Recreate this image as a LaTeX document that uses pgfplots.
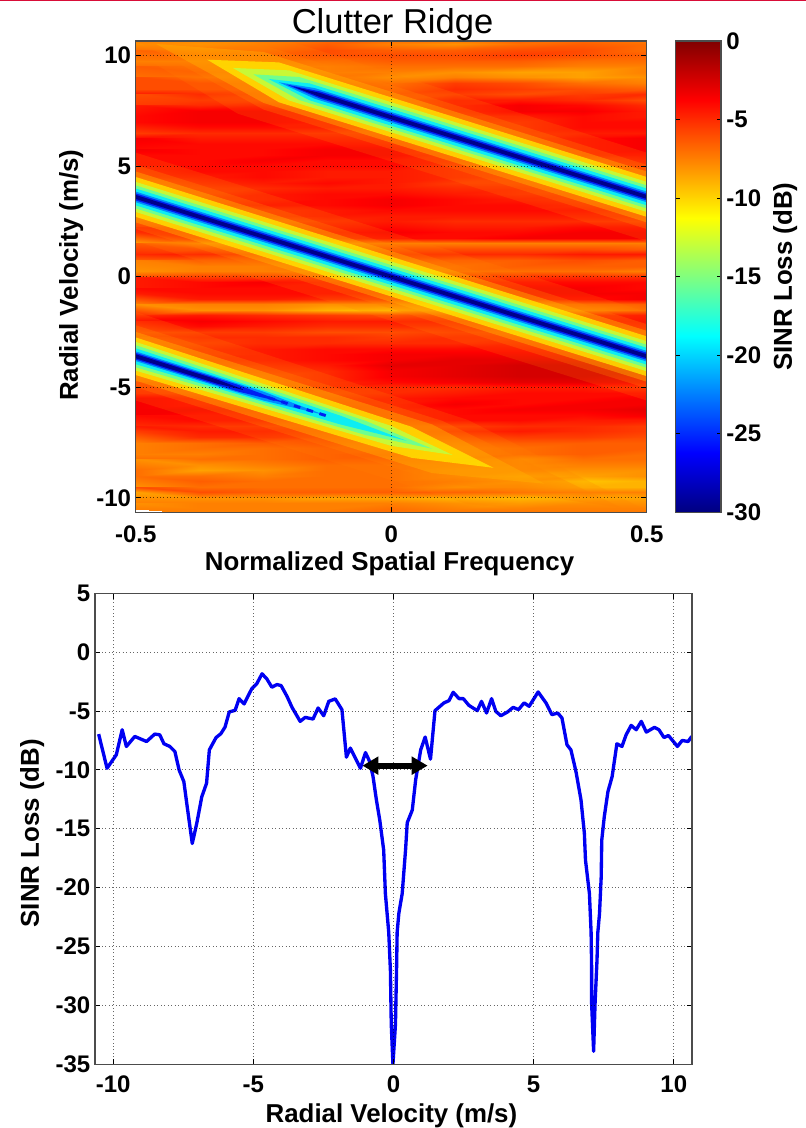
\documentclass[border=0pt]{standalone}
\usepackage{fontspec}
\setmainfont{Liberation Sans}
\usepackage{pgfplots}
\usepgfplotslibrary{colormaps}
\usetikzlibrary{arrows.meta}
\pgfplotsset{compat=1.18}
\definecolor{cO}{rgb}{1,0.5,0}
\definecolor{cA}{rgb}{1,0.68,0}
\definecolor{cY}{rgb}{1,0.92,0}
\definecolor{cL}{rgb}{0.75,1,0.25}
\definecolor{cG}{rgb}{0.4,1,0.6}
\definecolor{cC}{rgb}{0.05,0.93,0.95}
\definecolor{cT}{rgb}{0,0.55,1}
\definecolor{cB}{rgb}{0,0.12,0.95}
\definecolor{cN}{rgb}{0,0,0.55}
\definecolor{frame}{gray}{0.3}
\pgfplotsset{
  /pgf/number format/assume math mode=true,
  /pgf/number format/fixed,
  every axis/.append style={
    tick label style={font=\fontsize{18}{20}\selectfont\bfseries},
    label style={font=\fontsize{19.4}{22}\selectfont\bfseries},
    axis line style={frame,line width=0.9pt},
    tick style={black,line width=0.6pt},
    major tick length=4pt,
    tick align=inside,
    grid style={black,dash pattern=on 0.7pt off 1.9pt,line width=0.6pt,opacity=0.6},
    axis on top,
    scale only axis,
    anchor=south west,
  },
}
\begin{document}
\begin{tikzpicture}
\path[use as bounding box] (0,0) rectangle (604.5pt,846pt);
\fill[fill={rgb,1:red,0.85;green,0.05;blue,0.22}] (0,844.9pt) rectangle (604.5pt,846pt);
\begin{axis}[
  at={(101.8pt,461.8pt)},width=383.25pt,height=353.5pt,
  xmin=-0.5,xmax=0.5,ymin=-10.65,ymax=10.65,
  xtick={-0.5,0,0.5},ytick={-10,-5,...,10},
  xticklabels={-0.5,0,0.5},
  xticklabel style={yshift=-6.5pt},
  grid=major,
  title={\fontsize{25.9}{28}\selectfont\mdseries Clutter Ridge},
  title style={at={(0.5025,0.998)},anchor=base},
  xlabel={Normalized Spatial Frequency},
  ylabel={Radial Velocity (m/s)},
  xlabel style={at={(axis description cs:0.4967,-0.124)},anchor=base},
  ylabel style={at={(axis description cs:-0.113,0.503)},anchor=base},
  colormap/jet,point meta min=-30,point meta max=0,
]
\addplot[surf,shader=interp,mesh/cols=9,point meta=\thisrowno{0},forget plot] table[header=false,row sep=\\,
  x expr={-0.5+0.125*mod(\coordindex,9)},y expr={10.75-0.25*floor(\coordindex/9)}] {
-7.5\\-8\\-7.5\\-7\\-7\\-7\\-6.5\\-7\\-7.5\\
-8\\-8.5\\-7.5\\-6.5\\-7.5\\-8\\-7\\-6.5\\-7\\
-7\\-7.5\\-7\\-6\\-6.5\\-6.5\\-6\\-6\\-7\\
-6.5\\-6.5\\-6.5\\-6\\-6\\-6\\-5.5\\-6\\-6.5\\
-7.5\\-7.5\\-7\\-7\\-6.5\\-6.5\\-6.5\\-7\\-7\\
-7\\-7\\-7.5\\-7.5\\-7\\-7\\-7\\-7.5\\-7.5\\
-6.5\\-6.5\\-7\\-7.5\\-7.5\\-8\\-8.5\\-8.5\\-7.5\\
-7\\-7\\-7\\-7\\-8\\-7.5\\-8\\-8.5\\-8\\
-6\\-6\\-6\\-6.5\\-7\\-5.5\\-6\\-7\\-7.5\\
-6\\-6\\-6\\-6\\-6.5\\-5\\-5.5\\-6\\-6.5\\
-4.5\\-5\\-5.5\\-6\\-6\\-5.5\\-6\\-5.5\\-5\\
-6\\-5.5\\-5.5\\-6\\-6\\-4.5\\-4.5\\-5\\-6\\
-5.5\\-5\\-4.5\\-5\\-6\\-4.5\\-3.5\\-4\\-5\\
-4.5\\-3.5\\-3.5\\-4\\-5.5\\-4.5\\-3.5\\-3.5\\-4.5\\
-4\\-3.5\\-3.5\\-4\\-5\\-5\\-4.5\\-4\\-4.5\\
-4\\-3.5\\-3.5\\-4\\-4.5\\-5\\-5\\-4\\-4\\
-4\\-4\\-4\\-4\\-4.5\\-5\\-5\\-4\\-4\\
-5.5\\-5\\-5\\-5\\-5\\-5.5\\-5\\-4.5\\-4.5\\
-4\\-4.5\\-4.5\\-4.5\\-4.5\\-5\\-5\\-4\\-3.5\\
-3.5\\-4\\-4\\-4\\-4\\-5\\-5\\-4\\-3.5\\
-4\\-4\\-4\\-3.5\\-3.5\\-5\\-5\\-4\\-3.5\\
-3.5\\-4\\-4\\-3.5\\-3.5\\-4.5\\-5\\-4\\-4\\
-4\\-4\\-3.5\\-4\\-4\\-4.5\\-5\\-5\\-4.5\\
-4\\-4\\-4\\-4\\-4\\-5\\-5.5\\-5.5\\-5\\
-4.5\\-4\\-4\\-4.5\\-4.5\\-5\\-5.5\\-6\\-5.5\\
-5\\-4.5\\-4\\-4.5\\-4.5\\-5\\-5.5\\-6\\-6\\
-6\\-5\\-4.5\\-4\\-4.5\\-5.5\\-5.5\\-6\\-6\\
-6\\-5.5\\-5\\-4.5\\-4.5\\-5\\-5\\-5.5\\-6\\
-5\\-5.5\\-4.5\\-4\\-4\\-4.5\\-5\\-5\\-6\\
-5\\-5\\-4.5\\-4\\-3.5\\-4\\-4.5\\-5\\-5.5\\
-4.5\\-4.5\\-4\\-4\\-3.5\\-4\\-4\\-4.5\\-5\\
-6\\-6\\-5\\-4.5\\-4\\-4\\-4\\-4\\-4.5\\
-5\\-5.5\\-5\\-4.5\\-4.5\\-4.5\\-4.5\\-4.5\\-4.5\\
-6.5\\-6\\-6\\-5\\-4.5\\-5\\-5\\-5\\-5\\
-4.5\\-4.5\\-5\\-4.5\\-4\\-4.5\\-4.5\\-4\\-4\\
-4\\-4\\-4.5\\-4\\-3.5\\-4\\-4\\-3.5\\-3.5\\
-4.5\\-4.5\\-5\\-4.5\\-4\\-4\\-3.5\\-3.5\\-3.5\\
-8.5\\-8\\-8\\-8\\-7.5\\-7.5\\-7.5\\-7.5\\-7.5\\
-6.5\\-6\\-6.5\\-6.5\\-6\\-6\\-6\\-6\\-6.5\\
-5\\-4.5\\-5\\-5\\-5\\-5\\-5\\-4.5\\-4.5\\
-6.5\\-6.5\\-6.5\\-6.5\\-6\\-6.5\\-6.5\\-6\\-6.5\\
-7.5\\-7.5\\-7.5\\-7\\-7\\-7\\-6.5\\-6.5\\-6.5\\
-8\\-7.5\\-7.5\\-7.5\\-8\\-7\\-7\\-7\\-7.5\\
-6\\-5.5\\-5.5\\-5\\-5\\-5\\-5\\-5\\-5\\
-4.5\\-4\\-3.5\\-4\\-4\\-4\\-4\\-4\\-4\\
-4.5\\-4\\-4\\-4\\-4\\-4\\-3.5\\-3.5\\-4\\
-4\\-4\\-4\\-4\\-4\\-4\\-3.5\\-3.5\\-3.5\\
-4.5\\-4.5\\-4.5\\-5\\-5\\-5\\-4\\-4\\-3.5\\
-7.5\\-7.5\\-7.5\\-8\\-8\\-8\\-7.5\\-7\\-6.5\\
-8\\-8\\-8\\-9\\-9.5\\-8.5\\-8\\-8\\-7\\
-5\\-4.5\\-5\\-5.5\\-6\\-5.5\\-5\\-4.5\\-4\\
-3.5\\-3.5\\-4\\-4.5\\-4.5\\-4.5\\-4\\-4\\-3.5\\
-4.5\\-4\\-4.5\\-5\\-5\\-5\\-4.5\\-4.5\\-4\\
-6\\-5.5\\-5.5\\-6\\-6\\-5.5\\-5.5\\-5\\-5\\
-5.5\\-5\\-5\\-5\\-5.5\\-5\\-5\\-5\\-5\\
-6\\-5.5\\-5\\-5\\-5\\-5\\-4.5\\-4.5\\-5\\
-6\\-5\\-4.5\\-4\\-4\\-4\\-4\\-4\\-4\\
-5.5\\-5\\-4.5\\-4\\-3.5\\-3.5\\-3.5\\-3.5\\-3.5\\
-5\\-4.5\\-4.5\\-4\\-3.5\\-3\\-3\\-3\\-3.5\\
-5\\-5\\-5\\-4.5\\-3\\-3\\-2.5\\-2.5\\-3\\
-6\\-6\\-5.5\\-5\\-3.5\\-3\\-2.5\\-2.5\\-2.5\\
-6.5\\-6\\-6\\-5\\-3.5\\-3\\-2.5\\-2.5\\-3\\
-6\\-6\\-6\\-5\\-4\\-3.5\\-3\\-3\\-3.5\\
-5.5\\-5.5\\-6\\-5\\-5\\-5\\-4.5\\-4.5\\-5\\
-5\\-5\\-5.5\\-5.5\\-5\\-4.5\\-4\\-4\\-4\\
-3.5\\-4\\-4.5\\-5\\-4.5\\-4\\-4\\-4\\-3.5\\
-3.5\\-4\\-4\\-4.5\\-4.5\\-3.5\\-4\\-3.5\\-3.5\\
-3.5\\-3.5\\-3.5\\-4\\-4.5\\-4\\-3.5\\-3.5\\-3\\
-3.5\\-4\\-4\\-4\\-4.5\\-4\\-4\\-4\\-3.5\\
-4\\-4\\-4\\-4.5\\-4.5\\-4\\-4\\-4.5\\-4.5\\
-5\\-5\\-5\\-5\\-5.5\\-5.5\\-5\\-5\\-5.5\\
-4.5\\-4.5\\-4.5\\-5\\-5.5\\-5\\-4.5\\-5\\-5.5\\
-5.5\\-5\\-5\\-5.5\\-6\\-6\\-5.5\\-5.5\\-6\\
-7.5\\-7\\-6.5\\-6\\-6.5\\-7\\-6.5\\-6.5\\-6.5\\
-7.5\\-7\\-7\\-6.5\\-6.5\\-7.5\\-7\\-6.5\\-6.5\\
-7.5\\-7.5\\-7\\-6.5\\-6\\-7.5\\-7\\-6.5\\-7\\
-7\\-7\\-7\\-6.5\\-6.5\\-7\\-8\\-7\\-7\\
-8\\-8\\-7.5\\-7\\-7\\-7.5\\-8\\-7.5\\-7.5\\
-7\\-8.5\\-8\\-7\\-7\\-8\\-8\\-8\\-8\\
-7\\-7\\-7.5\\-7\\-7\\-8\\-9\\-8.5\\-8\\
-7\\-6.5\\-7\\-7\\-7\\-7.5\\-8.5\\-9.5\\-9\\
-8\\-7\\-7\\-7\\-7\\-8\\-8\\-9\\-9\\
-6\\-6\\-6.5\\-6.5\\-6.5\\-6.5\\-7\\-7.5\\-7.5\\
-8.5\\-8\\-8\\-8.5\\-8.5\\-9\\-9.5\\-9\\-8.5\\
-7.5\\-7.5\\-7.5\\-7.5\\-7.5\\-8\\-8.5\\-8\\-8\\
-8\\-7.5\\-7.5\\-7.5\\-7\\-7.5\\-7.5\\-7.5\\-7.5\\
-7.5\\-7.5\\-7.5\\-7\\-7\\-7\\-7\\-7\\-7\\
};
% main ridge
\addplot[fill=cO,draw=none,fill opacity=0.2] coordinates {(-.5,5.6)(.5,-1.6)(.5,-5.6)(-.5,1.6)} -- cycle;
\addplot[fill=cO,draw=none,fill opacity=0.3] coordinates {(-.5,5.05)(.5,-2.15)(.5,-5.05)(-.5,2.15)} -- cycle;
\addplot[fill=cA,draw=none,fill opacity=0.45] coordinates {(-.5,4.75)(.5,-2.45)(.5,-4.75)(-.5,2.45)} -- cycle;
\addplot[fill=cY,draw=none,fill opacity=0.75] coordinates {(-.5,4.5)(.5,-2.7)(.5,-4.5)(-.5,2.7)} -- cycle;
\addplot[fill=cL,draw=none,fill opacity=0.85] coordinates {(-.5,4.28)(.5,-2.92)(.5,-4.28)(-.5,2.92)} -- cycle;
\addplot[fill=cG,draw=none,fill opacity=0.9] coordinates {(-.5,4.12)(.5,-3.08)(.5,-4.12)(-.5,3.08)} -- cycle;
\addplot[fill=cC,draw=none] coordinates {(-.5,3.98)(.5,-3.22)(.5,-3.98)(-.5,3.22)} -- cycle;
\addplot[fill=cT,draw=none] coordinates {(-.5,3.84)(.5,-3.36)(.5,-3.84)(-.5,3.36)} -- cycle;
\addplot[fill=cB,draw=none] coordinates {(-.5,3.76)(.5,-3.44)(.5,-3.76)(-.5,3.44)} -- cycle;
\addplot[fill=cN,draw=none] coordinates {(-.5,3.69)(.5,-3.51)(.5,-3.69)(-.5,3.51)} -- cycle;
% upper ridge
\addplot[fill=cO,draw=none,fill opacity=0.2] coordinates {(-.6,11.52)(-.3,11.36)(.5,5.6)(.5,1.6)(-.3,7.36)} -- cycle;
\addplot[fill=cO,draw=none,fill opacity=0.3] coordinates {(-.52,10.94)(-.25,10.45)(.5,5.05)(.5,2.15)(-.25,7.55)} -- cycle;
\addplot[fill=cA,draw=none,fill opacity=0.45] coordinates {(-.46,10.51)(-.25,10.15)(.5,4.75)(.5,2.45)(-.25,7.85)} -- cycle;
\addplot[fill=cY,draw=none,fill opacity=0.75] coordinates {(-.36,9.8)(-.22,9.68)(.5,4.5)(.5,2.7)(-.22,7.88)} -- cycle;
\addplot[fill=cL,draw=none,fill opacity=0.85] coordinates {(-.31,9.43)(-.2,9.32)(.5,4.28)(.5,2.92)(-.2,7.96)} -- cycle;
\addplot[fill=cG,draw=none,fill opacity=0.9] coordinates {(-.27,9.14)(-.18,9.02)(.5,4.12)(.5,3.08)(-.18,7.98)} -- cycle;
\addplot[fill=cC,draw=none] coordinates {(-.24,8.93)(-.16,8.73)(.5,3.98)(.5,3.22)(-.16,7.97)} -- cycle;
\addplot[fill=cT,draw=none] coordinates {(-.22,8.78)(-.15,8.52)(.5,3.84)(.5,3.36)(-.15,8.04)} -- cycle;
\addplot[fill=cB,draw=none] coordinates {(-.205,8.68)(-.14,8.37)(.5,3.76)(.5,3.44)(-.14,8.05)} -- cycle;
\addplot[fill=cN,draw=none] coordinates {(-.19,8.57)(-.14,8.3)(.5,3.69)(.5,3.51)(-.14,8.12)} -- cycle;
% lower ridge
\addplot[fill=cO,draw=none,fill opacity=0.2] coordinates {(-.5,-1.6)(.15,-6.48)(.55,-11.16)(.15,-10.28)(-.5,-5.6)} -- cycle;
\addplot[fill=cO,draw=none,fill opacity=0.3] coordinates {(-.5,-2.2)(.1,-6.52)(.45,-10.44)(.1,-9.32)(-.5,-5)} -- cycle;
\addplot[fill=cA,draw=none,fill opacity=0.45] coordinates {(-.5,-2.5)(.08,-6.68)(.3,-9.36)(.08,-8.88)(-.5,-4.7)} -- cycle;
\addplot[fill=cY,draw=none,fill opacity=0.75] coordinates {(-.5,-2.75)(.04,-6.79)(.2,-8.64)(.04,-8.19)(-.5,-4.45)} -- cycle;
\addplot[fill=cL,draw=none,fill opacity=0.85] coordinates {(-.5,-2.95)(0,-6.75)(.12,-8.06)(0,-7.65)(-.5,-4.25)} -- cycle;
\addplot[fill=cG,draw=none,fill opacity=0.9] coordinates {(-.5,-3.1)(-.05,-6.52)(.08,-7.78)(-.05,-7.16)(-.5,-4.1)} -- cycle;
\addplot[fill=cC,draw=none] coordinates {(-.5,-3.24)(-.1,-6.28)(.03,-7.42)(-.1,-6.68)(-.5,-3.96)} -- cycle;
\addplot[fill=cT,draw=none] coordinates {(-.5,-3.38)(-.25,-5.2)(-.13,-6.26)(-.25,-5.6)(-.5,-3.82)} -- cycle;
\addplot[fill=cB,draw=none] coordinates {(-.5,-3.45)(-.3,-4.89)(-.2,-5.76)(-.3,-5.19)(-.5,-3.75)} -- cycle;
\addplot[fill=cN,draw=none] coordinates {(-.5,-3.51)(-.34,-4.66)(-.28,-5.18)(-.34,-4.84)(-.5,-3.69)} -- cycle;
\addplot[color=cB,line width=2.2pt,dash pattern=on 5pt off 5pt] coordinates {(-.29,-5.11)(-.12,-6.34)};
\end{axis}
% colour bar
\begin{axis}[
  at={(506.8pt,461.8pt)},width=34pt,height=353.5pt,
  xmin=0,xmax=1,ymin=-30,ymax=0,
  xtick=\empty,ytick={-30,-25,...,0},
  ymajorticks=true,
  yticklabel pos=right,
  major tick length=3pt,
  tick align=inside,
  yticklabel style={xshift=0.5pt},
  ylabel={SINR Loss (dB)},
  ylabel style={at={(axis description cs:2.56,0.5)},anchor=base},
  colormap/jet,point meta min=-30,point meta max=0,
]
\addplot[surf,shader=interp,mesh/cols=2,point meta=y] coordinates {
(0,-30)(1,-30)(0,-28.125)(1,-28.125)(0,-26.25)(1,-26.25)(0,-24.375)(1,-24.375)(0,-22.5)(1,-22.5)(0,-20.625)(1,-20.625)(0,-18.75)(1,-18.75)(0,-16.875)(1,-16.875)(0,-15)(1,-15)(0,-13.125)(1,-13.125)(0,-11.25)(1,-11.25)(0,-9.375)(1,-9.375)(0,-7.5)(1,-7.5)(0,-5.625)(1,-5.625)(0,-3.75)(1,-3.75)(0,-1.875)(1,-1.875)(0,0)(1,0)
};
\end{axis}
\begin{axis}[
  at={(71.25pt,47.8pt)},width=447.75pt,height=353.25pt,
  xmin=-10.65,xmax=10.65,ymin=-35,ymax=5,
  xtick={-10,-5,0,5,10},ytick={-35,-30,...,5},
  xticklabel style={yshift=-5pt},
  grid=major,
  xlabel={Radial Velocity (m/s)},
  ylabel={SINR Loss (dB)},
  xlabel style={at={(axis description cs:0.4966,-0.1226)},anchor=base},
  ylabel style={at={(axis description cs:-0.094,0.4905)},anchor=base},
]
\addplot[color={rgb,1:red,0;green,0;blue,0.95},line width=2.5pt,line join=round] coordinates {
(-10.52,-6.96)(-10.22,-9.86)(-9.89,-8.72)(-9.68,-6.59)(-9.53,-8.01)(-9.23,-7.16)(-8.81,-7.59)(-8.52,-6.96)(-8.34,-7.02)(-8.19,-7.78)(-7.98,-8.01)(-7.80,-8.44)(-7.65,-10.0)(-7.48,-11.0)(-7.36,-13.13)(-7.18,-16.25)(-7.02,-14.55)(-6.84,-12.28)(-6.67,-11.14)(-6.57,-8.30)(-6.33,-7.25)(-6.16,-6.93)(-6.01,-6.36)(-5.86,-5.08)(-5.65,-4.94)(-5.51,-3.95)(-5.33,-4.40)(-5.06,-3.12)(-4.88,-2.69)(-4.69,-1.84)(-4.52,-2.27)(-4.34,-2.98)(-4.16,-2.75)(-4.01,-2.84)(-3.80,-3.75)(-3.62,-4.69)(-3.33,-5.88)(-3.15,-5.54)(-2.87,-5.68)(-2.69,-4.74)(-2.49,-5.40)(-2.31,-4.18)(-2.08,-3.97)(-1.84,-4.88)(-1.68,-8.92)(-1.54,-8.15)(-1.36,-9.00)(-1.18,-9.86)(-1.00,-8.53)(-0.85,-9.29)(-0.73,-10.57)(-0.61,-12.56)(-0.49,-14.26)(-0.35,-16.82)(-0.29,-20.5)(-0.17,-23.8)(-0.11,-27.05)(-0.08,-31.6)(-0.02,-35)(0.07,-31.6)(0.11,-26.8)(0.13,-23.8)(0.19,-22.2)(0.31,-20.5)(0.43,-16.8)(0.49,-14.49)(0.67,-13.41)(0.79,-10.85)(0.97,-8.3)(1.13,-7.21)(1.32,-9.09)(1.48,-4.97)(1.80,-4.31)(1.98,-4.12)(2.13,-3.41)(2.34,-3.95)(2.49,-3.95)(2.69,-4.52)(2.99,-4.97)(3.14,-4.18)(3.32,-5.17)(3.50,-3.95)(3.65,-5.03)(3.83,-5.40)(4.07,-5.08)(4.27,-4.69)(4.46,-4.88)(4.66,-4.31)(4.84,-4.60)(5.16,-3.38)(5.44,-4.31)(5.65,-5.31)(5.86,-5.17)(6.01,-5.59)(6.19,-7.87)(6.33,-8.30)(6.51,-10.14)(6.69,-12.56)(6.81,-15.4)(6.85,-17.67)(6.99,-20.5)(7.05,-23.8)(7.07,-27.05)(7.07,-29.9)(7.14,-33.9)(7.19,-29.9)(7.26,-26.2)(7.29,-23.8)(7.35,-22.2)(7.41,-19.1)(7.43,-15.97)(7.52,-13.98)(7.65,-11.85)(7.80,-10.57)(7.97,-7.78)(8.15,-8.01)(8.30,-7.02)(8.48,-6.22)(8.66,-6.59)(8.84,-5.88)(9.02,-6.79)(9.31,-6.39)(9.47,-6.59)(9.65,-7.25)(9.81,-7.08)(10.13,-8.01)(10.30,-7.50)(10.51,-7.59)(10.64,-7.16)
};
\addplot[black,line width=4.4pt,{Triangle[length=12pt,width=13pt]}-{Triangle[length=12pt,width=13pt]}] coordinates {(-1.11,-9.64)(1.22,-9.64)};
\end{axis}
\end{tikzpicture}
\end{document}
